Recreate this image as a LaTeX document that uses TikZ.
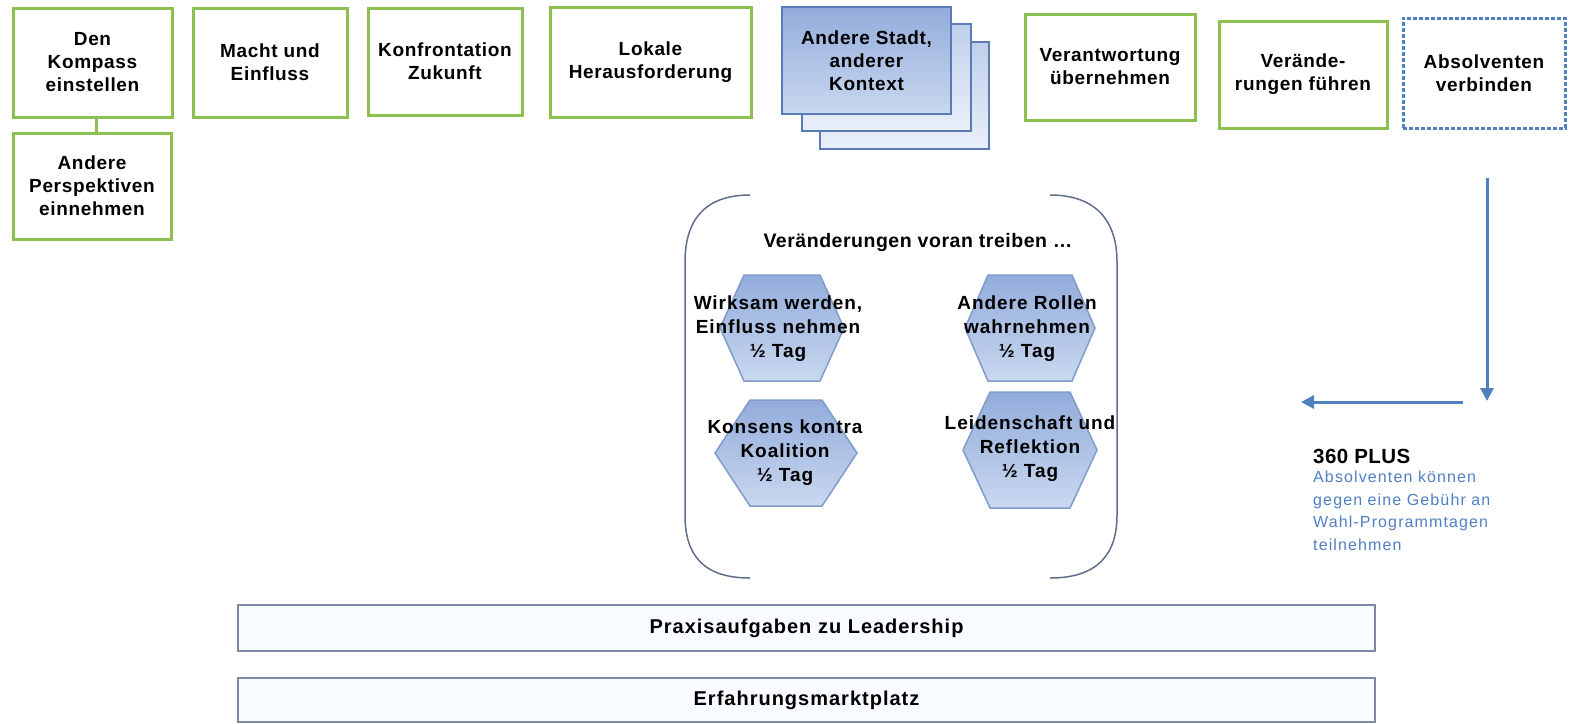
\documentclass[tikz,border=0pt]{standalone}
\usepackage{fontspec}
\setmainfont{Liberation Sans}
\usetikzlibrary{arrows.meta}
\definecolor{grn}{HTML}{8CC152}
\definecolor{blu}{HTML}{4F81BD}
\definecolor{hexbd}{HTML}{7F9CCB}
\definecolor{hextop}{HTML}{92ACDB}
\definecolor{hexbot}{HTML}{CAD8EF}
\definecolor{stadtbd}{HTML}{5A7BB5}
\definecolor{bracketc}{HTML}{5F6F8A}
\definecolor{barbd}{HTML}{7C8BA3}
\definecolor{barfill}{HTML}{F8FBFF}
\definecolor{txtblue}{HTML}{4F7FC3}
\tikzset{
  bigtext/.style={font=\bfseries\fontsize{19}{23}\selectfont\addfontfeature{LetterSpace=3.5}},
  gbox/.style={draw=grn, line width=3pt, fill=white, align=center, inner sep=0pt, bigtext},
  dbox/.style={draw=blu, line width=3pt, dash pattern=on 4pt off 2pt, fill=white, align=center, inner sep=0pt, bigtext},
  stadtfront/.style={draw=stadtbd, line width=2.5pt, top color=hextop, bottom color=hexbot, align=center, inner sep=0pt, bigtext, minimum width=169pt, minimum height=107pt},
  stadtback/.style={draw=stadtbd, line width=2.5pt, top color=hexbot!80!hextop, bottom color=hexbot!40!white, minimum width=169pt, minimum height=107pt},
  hexshape/.style={draw=hexbd, line width=1.5pt, top color=hextop, bottom color=hexbot},
  hextext/.style={align=center, inner sep=0pt, font=\bfseries\fontsize{19}{24}\selectfont\addfontfeature{LetterSpace=5}},
  bar/.style={draw=barbd, line width=1.5pt, fill=barfill, minimum width=1137pt, inner sep=0pt, font=\bfseries\fontsize{20}{22}\selectfont\addfontfeature{LetterSpace=5}},
  bracket/.style={draw=bracketc, line width=1.5pt},
  bluarrow/.style={draw=blu, line width=3pt, -{Triangle[length=13pt,width=13pt]}},
}
\newcommand{\hexpath}[5]{% cx cy a b c
  \path[hexshape] (#1-#3,#2) -- (#1-#5,#2-#4) -- (#1+#5,#2-#4) -- (#1+#3,#2) -- (#1+#5,#2+#4) -- (#1-#5,#2+#4) -- cycle;}
\begin{document}
\begin{tikzpicture}[x=1pt,y=-1pt]
\useasboundingbox (0,0) rectangle (1573,723);
% top row
\node[gbox, minimum width=159pt, minimum height=109pt] (kompass) at (92.5,62.5) {Den\\Kompass\\einstellen};
\node[gbox, minimum width=158pt, minimum height=106pt] (persp) at (92,186) {Andere\\Perspektiven\\einnehmen};
\draw[draw=grn, line width=3pt] (kompass.south) ++(4,0) coordinate (ks) -- (ks |- persp.north);
\node[gbox, minimum width=154pt, minimum height=109pt] (macht) at (270,62.5) {Macht und\\Einfluss};
\node[gbox, minimum width=154pt, minimum height=107pt] (konf) at (445,61.5) {Konfrontation\\Zukunft};
\node[gbox, minimum width=201pt, minimum height=110pt] (lokal) at (650.5,62) {Lokale\\Herausforderung};
\node[stadtback] (stadt3) at (904.5,95.5) {};
\node[stadtback] (stadt2) at (886.5,77.5) {};
\node[stadtfront] (stadt) at (866.5,60.5) {Andere Stadt,\\anderer\\Kontext};
\node[gbox, minimum width=170pt, minimum height=106pt] (verant) at (1110,67) {Verantwortung\\übernehmen};
\node[gbox, minimum width=168pt, minimum height=107pt] (veraend) at (1303,74.5) {Verände-\\rungen führen};
\node[dbox, minimum width=162pt, minimum height=110pt] (absolv) at (1484,73) {Absolventen\\verbinden};
% bracket group
\draw[bracket] (750,195) .. controls (703,195) and (685,222) .. (685,262) -- (685,515) .. controls (685,555) and (703,578) .. (750,578);
\draw[bracket] (1050,195) .. controls (1097,195) and (1117,222) .. (1117,262) -- (1117,515) .. controls (1117,555) and (1097,578) .. (1050,578);
\node[font=\bfseries\fontsize{19.5}{23}\selectfont\addfontfeature{LetterSpace=2.7}] (title) at (918,242) {Veränderungen voran treiben …};
\hexpath{782}{328}{62}{53}{38}
\hexpath{1030}{328}{65}{53}{42}
\hexpath{786}{453}{71}{53}{36}
\hexpath{1030}{450}{67}{58}{40}
\node[hextext] (h1) at (778,329) {Wirksam werden,\\Einfluss nehmen\\½ Tag};
\node[hextext] (h2) at (1027,329) {Andere Rollen\\wahrnehmen\\½ Tag};
\node[hextext] (h3) at (785,453) {Konsens kontra\\Koalition\\½ Tag};
\node[hextext] (h4) at (1030,449) {Leidenschaft und\\Reflektion\\½ Tag};
% arrows
\coordinate (v1) at (1487,178);
\coordinate (v2) at (1487,401);
\coordinate (w1) at (1463,402);
\coordinate (w2) at (1301,402);
\draw[bluarrow] (v1) -- (v2);
\draw[bluarrow] (w1) -- (w2);
% 360 plus
\node[anchor=base west, inner sep=0pt, font=\bfseries\fontsize{20.5}{23}\selectfont\addfontfeature{LetterSpace=2}] (plus) at (1313,463) {360 PLUS};
\node[anchor=north west, inner sep=0pt, align=left, text=txtblue, font=\fontsize{16}{22.5}\selectfont\addfontfeature{LetterSpace=7}] (plusdesc) at (1313,471) {Absolventen können\\gegen eine Gebühr an\\Wahl-Programmtagen\\teilnehmen};
% bars
\node[bar, minimum height=46pt] (praxis) at (806.5,628) {Praxisaufgaben zu Leadership};
\node[bar, minimum height=44pt] (erfahrung) at (806.5,700) {Erfahrungsmarktplatz};
\end{tikzpicture}
\end{document}
